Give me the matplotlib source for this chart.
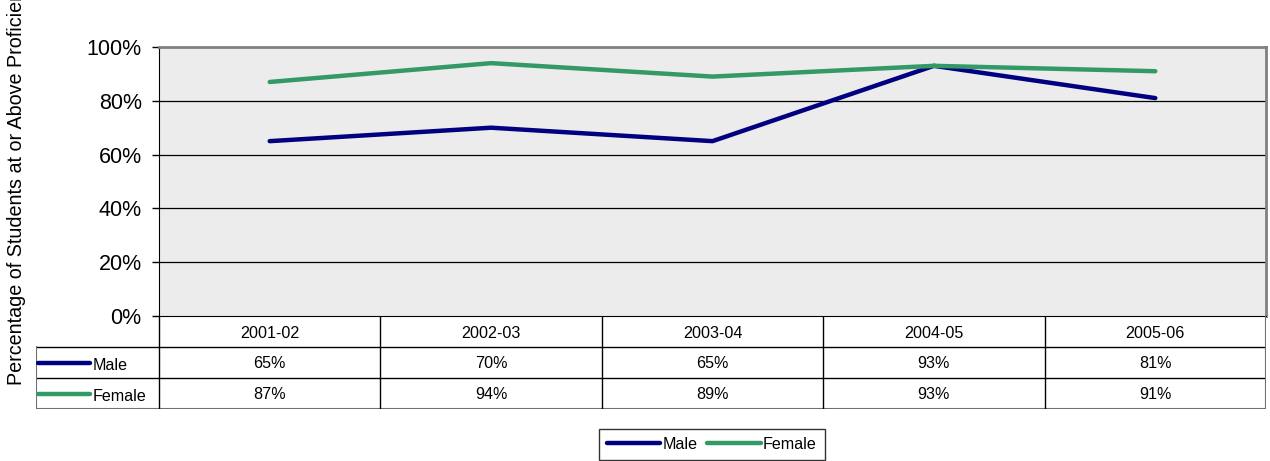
import matplotlib

matplotlib.use("Agg")
import matplotlib.pyplot as plt

plt.rcParams["font.family"] = ["Liberation Sans", "DejaVu Sans"]

years = ["2001-02", "2002-03", "2003-04", "2004-05", "2005-06"]
male = [65, 70, 65, 93, 81]
female = [87, 94, 89, 93, 91]
series_names = ["Male", "Female"]
series_colors = ["#000080", "#339966"]
yticks = [0, 20, 40, 60, 80, 100]

W, H = 1270, 461
fig = plt.figure(figsize=(W / 100, H / 100), dpi=100)

# plot area in pixel coordinates of the reference
px_l, px_r, px_t, px_b = 159, 1266, 47, 316
ax = fig.add_axes([px_l / W, (H - px_b) / H, (px_r - px_l) / W, (px_b - px_t) / H])
ax.set_facecolor("#ececec")

x = list(range(len(years)))
for vals, name, col in zip([male, female], series_names, series_colors):
    ax.plot(x, vals, color=col, lw=3.2, solid_capstyle="round", label=name, zorder=3)

ax.set_xlim(-0.5, len(years) - 0.5)
ax.set_ylim(0, 100)
ax.set_yticks(yticks)
ax.set_yticklabels([f"{v}%" for v in yticks], fontsize=15.5)
ax.set_xticks([])
ax.tick_params(axis="y", length=5, width=1, color="black", pad=7.5)
for v in yticks[1:-1]:
    ax.axhline(v, color="black", lw=0.9, zorder=1)
ax.spines["left"].set_color("black")
ax.spines["bottom"].set_color("black")
for s in ["top", "right"]:
    ax.spines[s].set_color("#808080")
    ax.spines[s].set_linewidth(2)

fig.text(17 / W, (H - 385) / H, "Percentage of Students at or Above Proficiency",
         rotation=90, ha="center", va="bottom", fontsize=14.2)

# data table under the plot
col_px = (px_r - px_l) / len(years)
lab_w = (px_l - 36) / col_px
tab = fig.add_axes([36 / W, (H - 409) / H, (px_r - 36) / W, (409 - px_b) / H])
tab.set_xlim(-0.5 - lab_w, len(years) - 0.5)
tab.set_ylim(0, 3)
tab.axis("off")
x0 = -0.5 - lab_w
x1 = len(years) - 0.5

for y in [1, 2]:
    tab.plot([x0, x1], [y, y], color="black", lw=1)
tab.plot([x0, x1], [0, 0], color="#707070", lw=1.5)
for k in range(1, len(years)):
    tab.plot([k - 0.5, k - 0.5], [0, 3], color="black", lw=1)
tab.plot([-0.5, -0.5], [0, 3], color="black", lw=1)
tab.plot([x1, x1], [0, 3], color="#707070", lw=1.5)
tab.plot([x0, x0], [0, 2], color="#707070", lw=1.5)

for i, yr in enumerate(years):
    tab.text(i, 2.45, yr, ha="center", va="center", fontsize=11.6)
for row, (vals, name, col) in enumerate(zip([male, female], series_names, series_colors)):
    yc = 1.5 - row
    for i, v in enumerate(vals):
        tab.text(i, yc - 0.03, f"{v}%", ha="center", va="center", fontsize=11.6)
    tab.plot([x0 + 2 / col_px, x0 + 54 / col_px], [yc, yc], color=col, lw=3.2,
             solid_capstyle="round")
    tab.text(x0 + 57 / col_px, yc - 0.1, name, ha="left", va="center", fontsize=11.6)

handles, labels = ax.get_legend_handles_labels()
leg = fig.legend(handles, labels, loc="upper center", bbox_to_anchor=(712 / W, (H - 429) / H),
                 ncol=2, fontsize=11.6, frameon=True, fancybox=False, edgecolor="black",
                 handlelength=3.3, handletextpad=0.15, columnspacing=0.6, borderpad=0.5,
                 borderaxespad=0)
leg.get_frame().set_linewidth(1)

fig.savefig("out.png", dpi=100)
